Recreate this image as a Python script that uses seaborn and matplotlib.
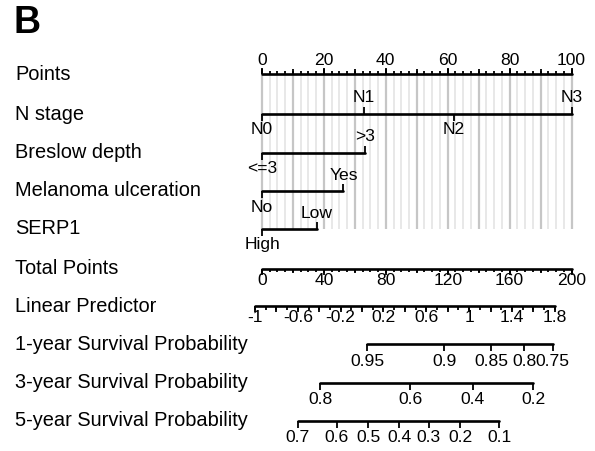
import numpy as np
import matplotlib
matplotlib.use("Agg")
import matplotlib.pyplot as plt
import seaborn as sns

# ---------------- data ----------------
row_labels = ["Points", "N stage", "Breslow depth", "Melanoma ulceration", "SERP1",
              "Total Points", "Linear Predictor", "1-year Survival Probability",
              "3-year Survival Probability", "5-year Survival Probability"]

points_labels = [0, 20, 40, 60, 80, 100]

n_stage_levels = ["N0", "N1", "N2", "N3"]
n_stage_points = [0, 32.9, 61.9, 100]

breslow_levels = ["<=3", ">3"]
breslow_points = [0, 33.3]

ulcer_levels = ["No", "Yes"]
ulcer_points = [0, 26.3]

serp1_levels = ["High", "Low"]
serp1_points = [0, 17.7]

total_points_labels = [0, 40, 80, 120, 160, 200]

lp_labels = [-1, -0.6, -0.2, 0.2, 0.6, 1, 1.4, 1.8]

surv1_labels = ["0.95", "0.9", "0.85", "0.8", "0.75"]
surv1_total = [68.0, 117.8, 148.0, 169.6, 187.9]

surv3_labels = ["0.8", "0.6", "0.4", "0.2"]
surv3_total = [37.5, 95.8, 136.1, 175.2]

surv5_labels = ["0.7", "0.6", "0.5", "0.4", "0.3", "0.2", "0.1"]
surv5_total = [23.1, 48.3, 68.8, 88.7, 107.6, 128.2, 153.4]

# ---------------- layout ----------------
sns.set_theme(style="white")
plt.rcParams["font.family"] = ["Liberation Sans", "DejaVu Sans"]
plt.rcParams["text.color"] = "black"

W, H = 595, 451
X0, X100 = 262.0, 571.5          # pixel of 0 and 100 points
ppu = (X100 - X0) / 100.0


def tp2pts(tp):
    return np.asarray(tp, dtype=float) / 2.0


def lp2pts(lp):
    return (np.asarray(lp, dtype=float) + 1.0) * 34.6 - 2.27


fig = plt.figure(figsize=(W / 100, H / 100), dpi=100)
ax = fig.add_axes([0, 0, 1, 1])
ax.set_xlim(-X0 / ppu, (W - X0) / ppu)
ax.set_ylim(H, 0)
ax.axis("off")

row_y = [75, 114, 152.5, 191, 229, 268.5, 306, 344, 382.5, 420.5]
label_fs = 14.4
tick_fs = 12.6
LW = 1.9

for lab, y in zip(row_labels, row_y):
    ax.text(-X0 / ppu + 15 / ppu, y, lab, fontsize=label_fs, ha="left", va="center",
            color="black")

ax.text(-X0 / ppu + 13 / ppu, 23, "B", fontsize=27, fontweight="bold", ha="left",
        va="center", color="black")

# gridlines
y_top, y_bot = row_y[0], row_y[4]
for v in np.arange(0, 100.01, 2.5):
    major = abs(v / 10 - round(v / 10)) < 1e-9
    ax.vlines(v, y_top, y_bot, color="#c6c6c6" if major else "#e4e4e4",
              lw=1.6 if major else 1.2, zorder=0)


def hline(x1, x2, y):
    sns.lineplot(x=[x1, x2], y=[y, y], ax=ax, color="black", lw=LW,
                 estimator=None, sort=False, legend=False)


def ticks(xs, y, length, direction):
    ax.vlines(xs, y, y + direction * length, color="black", lw=1.3)


# Points axis (ticks up, labels above)
yP = 73.5
hline(0, 100, yP)
ticks(np.arange(0, 100.01, 2.5), yP, 3, -1)
ticks(np.arange(0, 100.01, 10), yP, 4.5, -1)
ticks(points_labels, yP, 6, -1)
for v in points_labels:
    ax.text(v, yP - 13, str(v), fontsize=tick_fs, ha="center", va="center")


# categorical axes
def cat_axis(levels, pts, y):
    hline(min(pts), max(pts), y)
    for i, (lev, p) in enumerate(zip(levels, pts)):
        up = (i % 2 == 1)
        ticks([p], y, 7, -1 if up else 1)
        ax.text(p, y - 16 if up else y + 16, lev, fontsize=tick_fs,
                ha="center", va="center")


cat_axis(n_stage_levels, n_stage_points, row_y[1])
cat_axis(breslow_levels, breslow_points, row_y[2])
cat_axis(ulcer_levels, ulcer_points, row_y[3])
cat_axis(serp1_levels, serp1_points, row_y[4])

# Total points (ticks down, labels below)
yT = row_y[5]
hline(0, 100, yT)
ticks(tp2pts(np.arange(0, 200.01, 5)), yT, 3, 1)
ticks(tp2pts(np.arange(0, 200.01, 20)), yT, 4.5, 1)
ticks(tp2pts(total_points_labels), yT, 6, 1)
for v, x in zip(total_points_labels, tp2pts(total_points_labels)):
    ax.text(x, yT + 12, str(v), fontsize=tick_fs, ha="center", va="center")

# Linear predictor
yL = row_y[6]
hline(lp2pts(lp_labels[0]), lp2pts(lp_labels[-1]), yL)
ticks(lp2pts(np.arange(-1, 1.801, 0.1)), yL, 4, 1)
ticks(lp2pts(np.arange(-1, 1.801, 0.2)), yL, 6, 1)
for v in lp_labels:
    ax.text(lp2pts(v), yL + 11.5, f"{v:g}", fontsize=tick_fs, ha="center", va="center")


# survival axes
def surv_axis(labels, totals, y):
    xs = tp2pts(totals)
    hline(xs.min(), xs.max(), y)
    ticks(xs, y, 7, 1)
    for lab, x in zip(labels, xs):
        ax.text(x, y + 17, lab, fontsize=tick_fs, ha="center", va="center")


surv_axis(surv1_labels, surv1_total, row_y[7])
surv_axis(surv3_labels, surv3_total, row_y[8])
surv_axis(surv5_labels, surv5_total, row_y[9])

fig.savefig("out.png", dpi=100)
